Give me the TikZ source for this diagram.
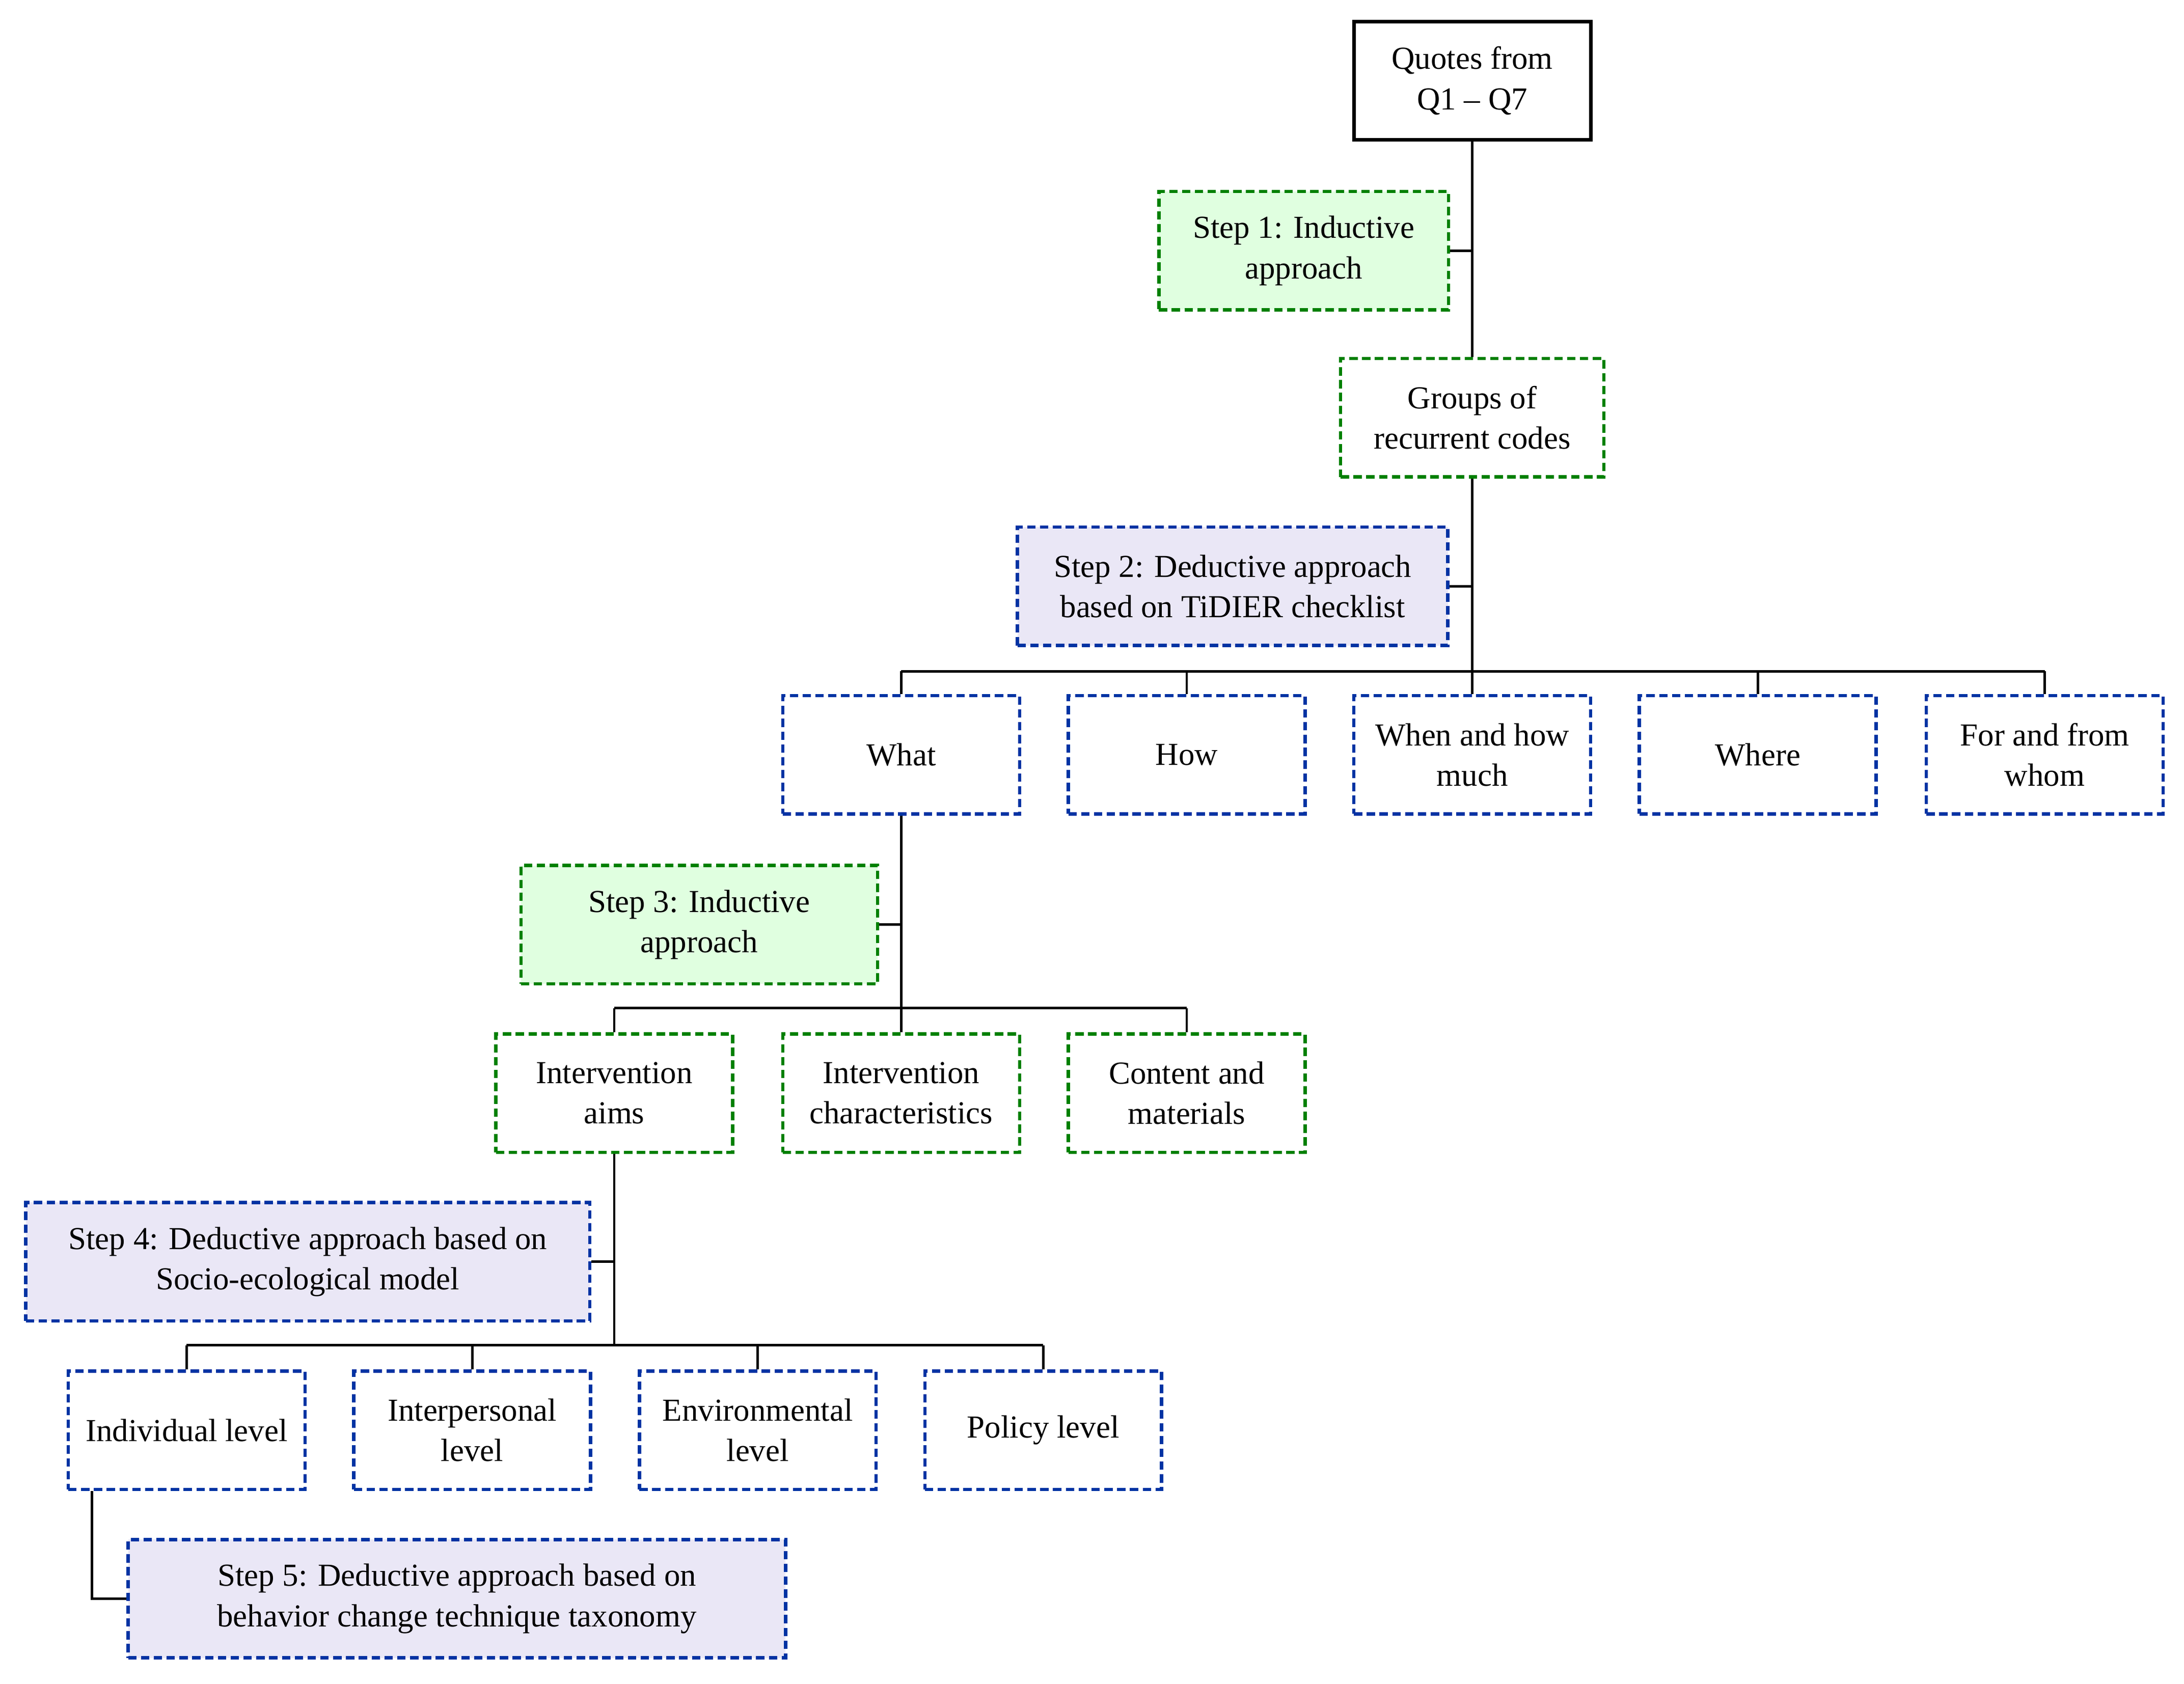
\documentclass[tikz,border=0pt]{standalone}
\usepackage{fontspec}
\setmainfont{Liberation Serif}
\begin{document}
\begin{tikzpicture}[x=0.5pt,y=-0.5pt,
 base/.style={minimum height=42.5pt,align=center,inner sep=1pt,font=\fontsize{11.5}{14.5}\selectfont},
 gbox/.style={base,draw=green!50!black,line width=1.2pt,dash pattern=on 3pt off 1.6pt},
 bbox/.style={base,draw=blue!55!black!80!cyan,line width=1.2pt,dash pattern=on 3pt off 1.6pt},
 gfill/.style={gbox,fill=green!12!white},
 bfill/.style={bbox,fill=cyan!10!blue!8!white},
 ln/.style={line width=0.9pt}]
\useasboundingbox (0,0) rectangle (1568,1209);
\node[base,draw,line width=1.3pt,minimum width=85pt] (q) at (1057,58) {Quotes from\\Q1 -- Q7};
\node[gfill,minimum width=104pt] (s1) at (936,180) {Step 1: Inductive\\approach};
\node[gbox,minimum width=94.5pt] (g) at (1057,300) {Groups of\\recurrent codes};
\node[bfill,minimum width=154.5pt] (s2) at (885,421) {Step 2: Deductive approach\\based on TiDIER checklist};
\node[bbox,minimum width=85pt] (what) at (647,542) {What};
\node[bbox,minimum width=85pt] (how) at (852,542) {How};
\node[bbox,minimum width=85pt] (when) at (1057,542) {When and how\\much};
\node[bbox,minimum width=85pt] (where) at (1262,542) {Where};
\node[bbox,minimum width=85pt] (for) at (1468,542) {For and from\\whom};
\node[gfill,minimum width=128pt] (s3) at (502,664) {Step 3: Inductive\\approach};
\node[gbox,minimum width=85pt] (aims) at (441,785) {Intervention\\aims};
\node[gbox,minimum width=85pt] (char) at (647,785) {Intervention\\characteristics};
\node[gbox,minimum width=85pt] (cont) at (852,785) {Content and\\materials};
\node[bfill,minimum width=202.5pt] (s4) at (221,906) {Step 4: Deductive approach based on\\Socio-ecological model};
\node[bbox,minimum width=85pt] (ind) at (134,1027) {Individual level};
\node[bbox,minimum width=85pt] (inter) at (339,1027) {Interpersonal\\level};
\node[bbox,minimum width=85pt] (env) at (544,1027) {Environmental\\level};
\node[bbox,minimum width=85pt] (pol) at (749,1027) {Policy level};
\node[bfill,minimum width=236pt] (s5) at (328,1148) {Step 5: Deductive approach based on\\behavior change technique taxonomy};
\coordinate (j1) at (1057,180);
\coordinate (j2) at (1057,421);
\coordinate (h1) at (1057,482);
\coordinate (j3) at (647,664);
\coordinate (h2) at (647,724);
\coordinate (j4) at (441,906);
\coordinate (h3) at (441,966);
\coordinate (b5) at (66,1148);
\draw[ln] (q.south) -- (g.north);
\draw[ln] (s1.east) -- (j1);
\draw[ln] (g.south) -- (h1);
\draw[ln] (s2.east) -- (j2);
\foreach \n in {what,how,when,where,for} \draw[ln] (h1 -| \n) -- (\n.north);
\draw[ln] (h1 -| what) -- (h1 -| for);
\draw[ln] (what.south) -- (h2);
\draw[ln] (s3.east) -- (j3);
\foreach \n in {aims,char,cont} \draw[ln] (h2 -| \n) -- (\n.north);
\draw[ln] (h2 -| aims) -- (h2 -| cont);
\draw[ln] (aims.south) -- (h3);
\draw[ln] (s4.east) -- (j4);
\foreach \n in {ind,inter,env,pol} \draw[ln] (h3 -| \n) -- (\n.north);
\draw[ln] (h3 -| ind) -- (h3 -| pol);
\draw[ln] (ind.south -| b5) -- (b5) -- (s5.west);
\end{tikzpicture}
\end{document}
